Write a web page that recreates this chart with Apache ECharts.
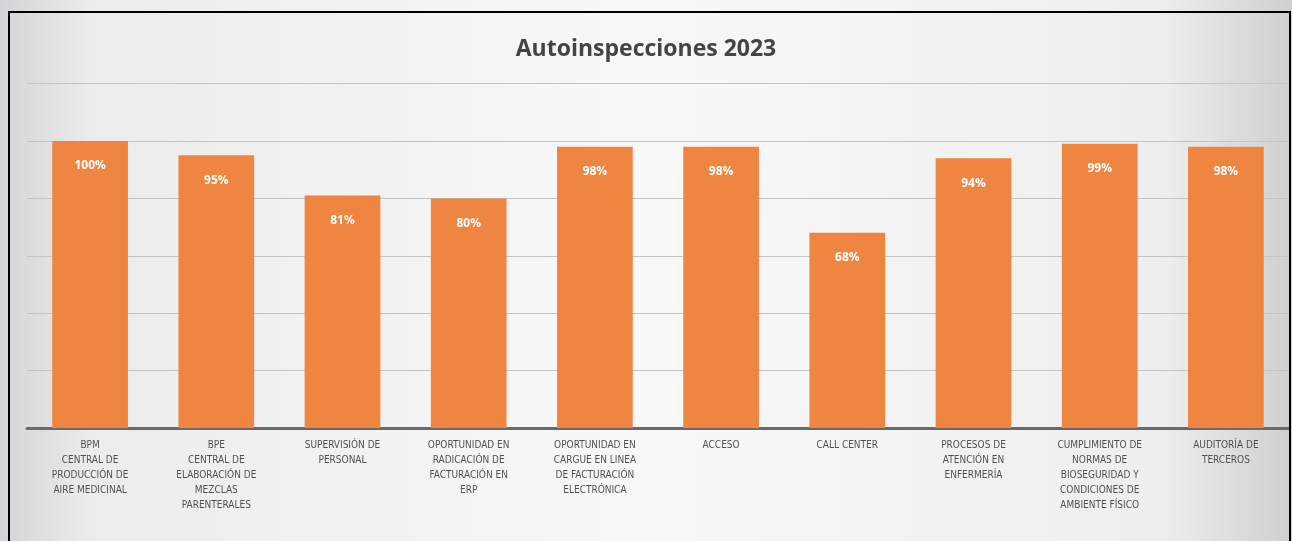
<!DOCTYPE html>
<html>
<head>
<meta charset="utf-8">
<script src="https://cdn.jsdelivr.net/npm/echarts@6/dist/echarts.min.js"></script>
<style>
  html, body { margin: 0; padding: 0; background: #ffffff; }
  #chart { width: 1292px; height: 541px; }
</style>
</head>
<body>
<div id="chart"></div>
<script>
// Areas audited in 2023
const categories = [
  'BPM\nCENTRAL DE\nPRODUCCIÓN DE\nAIRE MEDICINAL',
  'BPE\nCENTRAL DE\nELABORACIÓN DE\nMEZCLAS\nPARENTERALES',
  'SUPERVISIÓN DE\nPERSONAL',
  'OPORTUNIDAD EN\nRADICACIÓN DE\nFACTURACIÓN EN\nERP',
  'OPORTUNIDAD EN\nCARGUE EN LINEA\nDE FACTURACIÓN\nELECTRÓNICA',
  'ACCESO',
  'CALL CENTER',
  'PROCESOS DE\nATENCIÓN EN\nENFERMERÍA',
  'CUMPLIMIENTO DE\nNORMAS DE\nBIOSEGURIDAD Y\nCONDICIONES DE\nAMBIENTE FÍSICO',
  'AUDITORÍA DE\nTERCEROS'
];

// Compliance per area (fraction of 1)
const compliance = [1.00, 0.95, 0.81, 0.80, 0.98, 0.98, 0.68, 0.94, 0.99, 0.98];

const chart = echarts.init(document.getElementById('chart'));

chart.setOption({
  animation: false,
  backgroundColor: {
    type: 'linear', x: 0, y: 0, x2: 1, y2: 0,
    colorStops: [
      { offset: 0, color: '#d4d4d6' },
      { offset: 0.07, color: '#ececec' },
      { offset: 0.5, color: '#f8f8f8' },
      { offset: 0.9, color: '#eeeeee' },
      { offset: 1, color: '#cfcfcf' }
    ]
  },
  title: {
    text: 'Autoinspecciones 2023',
    left: 'center',
    top: 33,
    textStyle: {
      fontFamily: 'Open Sans',
      fontWeight: 'bold',
      fontSize: 23,
      color: '#444444'
    }
  },
  graphic: [{
    type: 'rect',
    silent: true,
    z: 100,
    shape: { x: 9, y: 12, width: 1281, height: 600 },
    style: { fill: 'none', stroke: '#000000', lineWidth: 2 }
  }],
  grid: { left: 27, right: 3, top: 83.6, bottom: 113 },
  xAxis: {
    type: 'category',
    data: categories,
    axisLine: { lineStyle: { color: '#6a6a6a', width: 3 } },
    axisTick: { show: false },
    axisLabel: {
      interval: 0,
      margin: 10,
      fontFamily: "'DejaVu Sans Condensed', 'Liberation Sans', sans-serif",
      fontSize: 10,
      lineHeight: 15,
      color: '#505050',
      verticalAlign: 'top'
    }
  },
  yAxis: {
    type: 'value',
    min: 0,
    max: 1.2,
    interval: 0.2,
    axisLabel: { show: false },
    axisLine: { show: false },
    axisTick: { show: false },
    splitLine: { lineStyle: { color: '#c4c4c4', width: 1 } }
  },
  series: [{
    type: 'bar',
    data: compliance,
    barWidth: '60%',
    itemStyle: { color: '#ee8642' },
    label: {
      show: true,
      position: 'insideTop',
      distance: 19,
      formatter: p => Math.round(p.value * 100) + '%',
      color: '#ffffff',
      fontFamily: 'Open Sans',
      fontWeight: 'bold',
      fontSize: 12
    }
  }]
});
</script>
</body>
</html>
